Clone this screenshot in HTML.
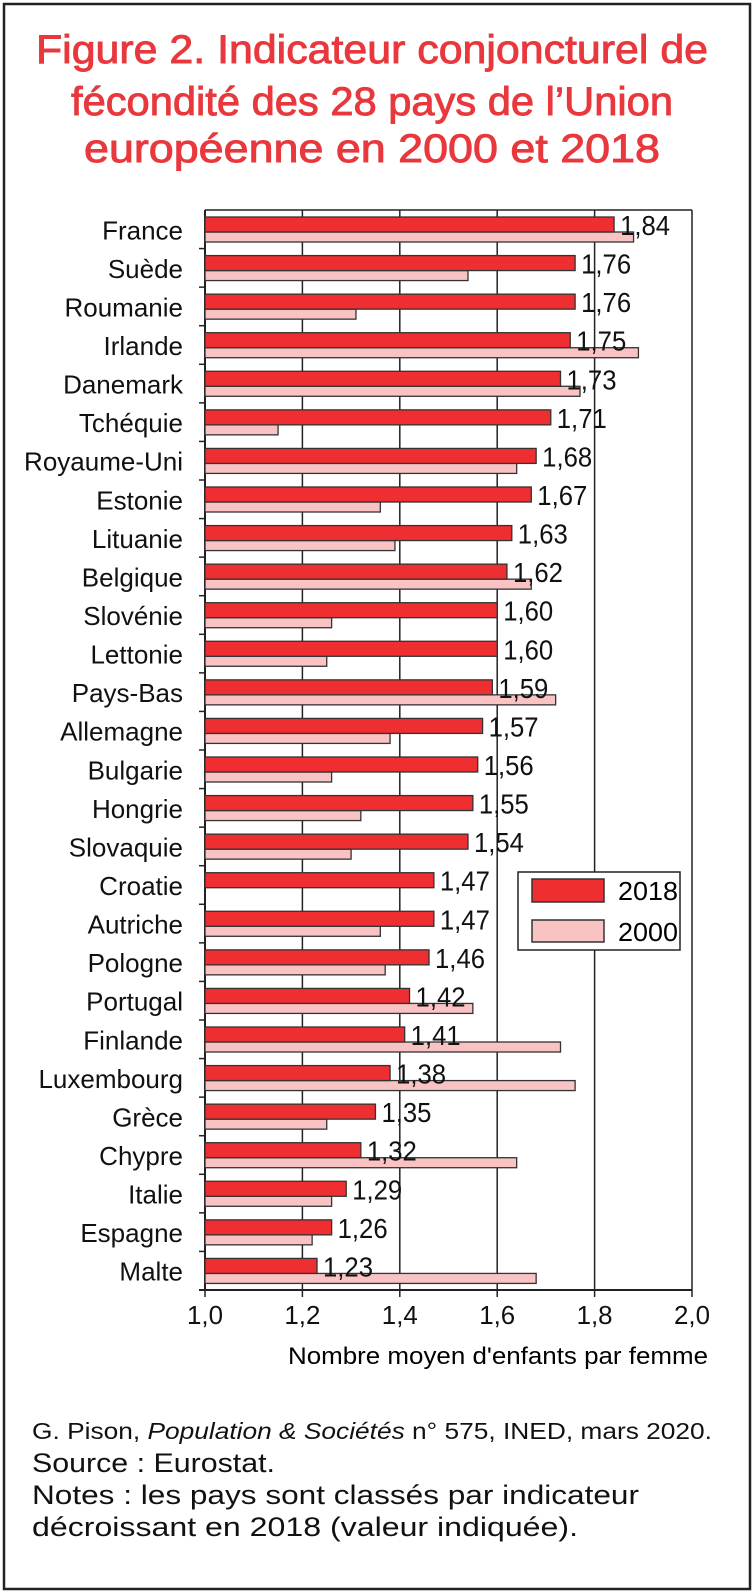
<!DOCTYPE html>
<html><head><meta charset="utf-8"><style>
html,body{margin:0;padding:0;background:#fff}
svg{display:block}
text{font-family:"Liberation Sans",sans-serif}
</style></head><body>
<svg id="chart" width="754" height="1593" viewBox="0 0 754 1593">
<rect x="4" y="4" width="746" height="1585" fill="#fff" stroke="#222" stroke-width="2.5"/>
<g fill="#e8383d" stroke="#e8383d" stroke-width="0.9" font-size="40" text-anchor="middle">
<text x="372" y="63" textLength="672" lengthAdjust="spacingAndGlyphs">Figure 2. Indicateur conjoncturel de</text>
<text x="372" y="115" textLength="602" lengthAdjust="spacingAndGlyphs">fécondité des 28 pays de l’Union</text>
<text x="372" y="162" textLength="576" lengthAdjust="spacingAndGlyphs">européenne en 2000 et 2018</text>
</g>
<g id="plot"></g>
<g>
<rect x="518" y="872" width="162" height="78" fill="#fff" stroke="#222" stroke-width="1.5"/>
<rect x="532" y="879" width="72" height="23" fill="#ee2e31" stroke="#333" stroke-width="1.5"/>
<text x="618" y="900" font-size="26" textLength="60" lengthAdjust="spacingAndGlyphs">2018</text>
<rect x="532" y="920" width="72" height="22" fill="#f9c3c3" stroke="#333" stroke-width="1.5"/>
<text x="618" y="941" font-size="26" textLength="60" lengthAdjust="spacingAndGlyphs">2000</text>
</g>
<text x="498" y="1364" font-size="24" text-anchor="middle" textLength="420" lengthAdjust="spacingAndGlyphs">Nombre moyen d'enfants par femme</text>
<g font-size="23" fill="#111">
<text x="32" y="1439" textLength="680" lengthAdjust="spacingAndGlyphs">G. Pison, <tspan font-style="italic">Population &amp; Sociétés</tspan> n° 575, INED, mars 2020.</text>
<text x="32" y="1472" font-size="27" textLength="243" lengthAdjust="spacingAndGlyphs">Source : Eurostat.</text>
<text x="32" y="1504" font-size="27" textLength="607" lengthAdjust="spacingAndGlyphs">Notes : les pays sont classés par indicateur</text>
<text x="32" y="1536" font-size="27" textLength="546" lengthAdjust="spacingAndGlyphs">décroissant en 2018 (valeur indiquée).</text>
</g>
</svg>
<script>
const countries = ["France","Suède","Roumanie","Irlande","Danemark","Tchéquie","Royaume-Uni","Estonie","Lituanie","Belgique","Slovénie","Lettonie","Pays-Bas","Allemagne","Bulgarie","Hongrie","Slovaquie","Croatie","Autriche","Pologne","Portugal","Finlande","Luxembourg","Grèce","Chypre","Italie","Espagne","Malte"];
const values2018 = [1.84,1.76,1.76,1.75,1.73,1.71,1.68,1.67,1.63,1.62,1.60,1.60,1.59,1.57,1.56,1.55,1.54,1.47,1.47,1.46,1.42,1.41,1.38,1.35,1.32,1.29,1.26,1.23];
const values2000 = [1.88,1.54,1.31,1.89,1.77,1.15,1.64,1.36,1.39,1.67,1.26,1.25,1.72,1.38,1.26,1.32,1.30,null,1.36,1.37,1.55,1.73,1.76,1.25,1.64,1.26,1.22,1.68];
const xTicks = [1.0,1.2,1.4,1.6,1.8,2.0];
const xTickLabels = ["1,0","1,2","1,4","1,6","1,8","2,0"];

const NS = "http://www.w3.org/2000/svg";
const plot = document.getElementById("plot");
const X0 = 205, X1 = 692, Y0 = 210, Y1 = 1290;
const xMin = 1.0, xMax = 2.0;
const band = (Y1 - Y0) / countries.length;
function xs(v){ return X0 + (v - xMin) / (xMax - xMin) * (X1 - X0); }
function ys(i){ return Y0 + i * band; }
function mk(tag, attrs, parent){
  const e = document.createElementNS(NS, tag);
  for (const k in attrs) e.setAttribute(k, attrs[k]);
  (parent || plot).appendChild(e);
  return e;
}
xTicks.forEach((t, i) => {
  const gl = mk("line", {x1: xs(t), x2: xs(t), y1: Y0, y2: Y1 + 7, stroke: "#222", "stroke-width": 1.5});
  
  
  const tl = mk("text", {x: xs(t), y: 1324, "font-size": 26, "text-anchor": "middle", fill: "#111", textLength: 36, lengthAdjust: "spacingAndGlyphs"});
  tl.textContent = xTickLabels[i];
  
  
});
const fr = mk("line", {x1: X0, x2: X1, y1: Y0, y2: Y0, stroke: "#222", "stroke-width": 1.5});


const xa = mk("line", {x1: X0 - 6, x2: X1, y1: Y1, y2: Y1, stroke: "#222", "stroke-width": 2});


const ya = mk("line", {x1: X0, x2: X0, y1: Y0, y2: Y1, stroke: "#222", "stroke-width": 2});


for (let i = 1; i <= countries.length; i++) {
  const tk = mk("line", {x1: X0 - 6, x2: X0, y1: ys(i), y2: ys(i), stroke: "#222", "stroke-width": 1.5});
  
  
}
countries.forEach((c, i) => {
  const top = ys(i);
  const lab = mk("text", {x: 183, y: top + band / 2 + 10, "font-size": 26, "text-anchor": "end", fill: "#111"});
  lab.textContent = c;
  
  
  if (values2000[i] !== null) {
    const b0 = mk("rect", {x: X0, y: top + 22, width: xs(values2000[i]) - X0, height: 10, fill: "#f9c3c3", stroke: "#333", "stroke-width": 1.3});
    
    
  }
  const b1 = mk("rect", {x: X0, y: top + 7, width: xs(values2018[i]) - X0, height: 15, fill: "#ee2e31", stroke: "#333", "stroke-width": 1.3});
  
  
  const vl = mk("text", {x: xs(values2018[i]) + 6, y: top + 25, "font-size": 28, fill: "#111", textLength: 50, lengthAdjust: "spacingAndGlyphs"});
  vl.textContent = values2018[i].toFixed(2).replace(".", ",");
  
  
});
</script>
</body></html>
